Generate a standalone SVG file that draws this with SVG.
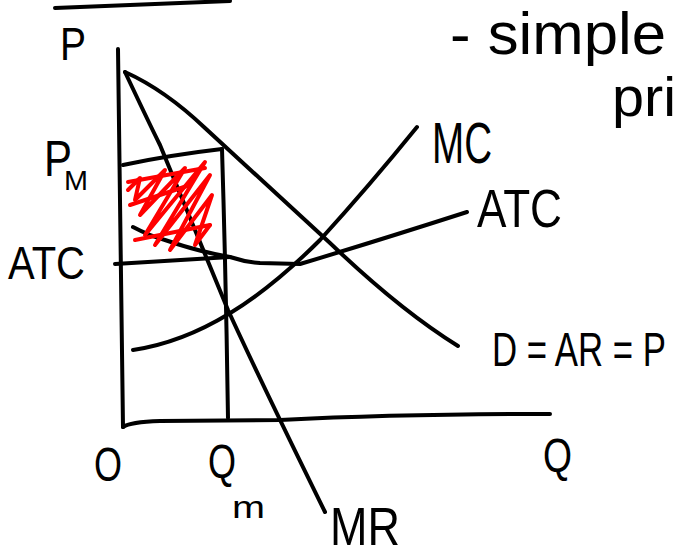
<svg xmlns="http://www.w3.org/2000/svg" width="680" height="554" viewBox="0 0 680 554">
<style>
.ln{fill:none;stroke:#000;stroke-width:4;stroke-linecap:round;stroke-linejoin:round}
.red{fill:none;stroke:#ff0000;stroke-width:4;stroke-linecap:round;stroke-linejoin:round}
text{font-family:"Liberation Sans","DejaVu Sans",sans-serif;fill:#000}
</style>
<rect width="680" height="554" fill="#fff"/>
<g id="topline"><path class="ln" d="M55,8 L230,1"/></g>
<g id="axes">
<path class="ln" d="M118,49 Q120,240 123,427"/>
<path class="ln" d="M123,427 Q130,422 160,421 L280,420 Q400,414 550,414"/>
</g>
<g id="curves">
<path id="demand" class="ln" d="M125,72 Q165,90 205,128 L330,243 Q400,310 458,346"/>
<path id="mr" class="ln" d="M125,72 Q150,125 160,145 L228,310 Q260,380 325,512"/>
<path id="pm-line" class="ln" d="M123,165 Q170,155 222,149"/>
<path id="qm-line" class="ln" d="M222,149 Q226,280 228,418"/>
<path id="atc" class="ln" d="M133,227 Q150,236 165,240 Q200,252 230,257 Q245,262 260,263 L300,264 Q380,240 467,212"/>
<path id="atc-line" class="ln" d="M115,264 L230,257"/>
<path id="mc" class="ln" d="M133,350 C200,340 260,300 320,240 Q370,185 417,127"/>
</g>
<g id="profit">
<path class="red" d="M128,190 L140,178 L135,200 L165,170 L140,215 L185,168 L145,235 L205,162 L155,245 L210,175 L170,250 L212,195 L195,245 L210,225"/>
<path class="red" d="M128,182 L205,168 M135,240 L210,225 M130,205 L190,185"/>
</g>
<g id="labels">
<text x="60" y="60" font-size="46" textLength="26" lengthAdjust="spacingAndGlyphs">P</text>
<text x="44" y="176" font-size="50" textLength="28" lengthAdjust="spacingAndGlyphs">P</text>
<text x="64" y="190" font-size="28" textLength="24" lengthAdjust="spacingAndGlyphs">M</text>
<text x="8" y="279" font-size="46" textLength="77" lengthAdjust="spacingAndGlyphs">ATC</text>
<text x="432" y="163" font-size="58" textLength="60" lengthAdjust="spacingAndGlyphs">MC</text>
<text x="477" y="227" font-size="54" textLength="85" lengthAdjust="spacingAndGlyphs">ATC</text>
<text x="492" y="366" font-size="48" textLength="174" lengthAdjust="spacingAndGlyphs">D = AR = P</text>
<text x="94" y="481" font-size="48" textLength="28" lengthAdjust="spacingAndGlyphs">O</text>
<text x="208" y="478" font-size="48" textLength="28" lengthAdjust="spacingAndGlyphs">Q</text>
<text x="232" y="518" font-size="32" textLength="33" lengthAdjust="spacingAndGlyphs">m</text>
<text x="543" y="472" font-size="48" textLength="29" lengthAdjust="spacingAndGlyphs">Q</text>
<text x="330" y="545" font-size="54" textLength="70" lengthAdjust="spacingAndGlyphs">MR</text>
<text x="450" y="54" font-size="60" textLength="216" lengthAdjust="spacingAndGlyphs">- simple</text>
<text x="612" y="116" font-size="56" textLength="64" lengthAdjust="spacingAndGlyphs">pri</text>
</g>
</svg>
